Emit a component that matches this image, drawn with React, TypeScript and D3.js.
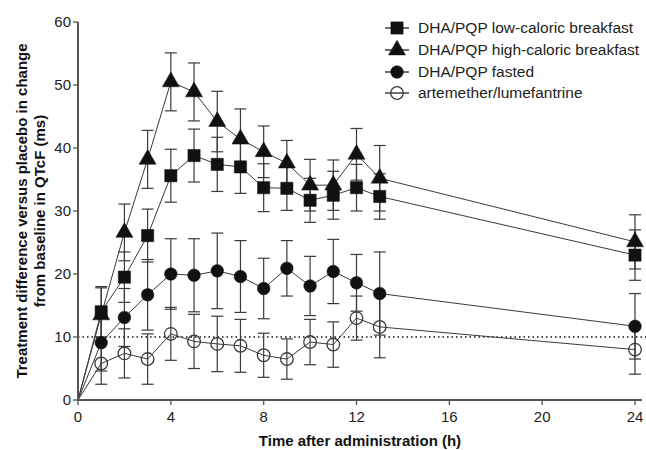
import React from "react";
import * as d3 from "d3";

const WIDTH = 646;
const HEIGHT = 450;
const MARGIN = { top: 22, right: 11, bottom: 50, left: 78 };

const times = [1, 2, 3, 4, 5, 6, 7, 8, 9, 10, 11, 12, 13, 24];

const lowValues = [14.0, 19.5, 26.1, 35.6, 38.8, 37.4, 37.0, 33.7, 33.6, 31.7, 32.5, 33.7, 32.3, 23.0];
const lowErrors = [4.0, 4.0, 4.2, 4.2, 4.2, 4.3, 4.2, 3.8, 3.5, 3.5, 3.8, 3.7, 3.6, 4.0];

const highValues = [13.5, 26.6, 38.2, 50.5, 48.9, 44.2, 41.4, 39.4, 37.6, 34.1, 34.1, 39.0, 35.2, 25.1];
const highErrors = [4.3, 4.5, 4.6, 4.6, 4.6, 4.8, 4.8, 4.1, 3.6, 4.1, 4.0, 4.1, 5.2, 4.3];

const fastedValues = [9.1, 13.1, 16.7, 20.0, 19.8, 20.5, 19.6, 17.7, 20.9, 18.1, 20.4, 18.6, 16.9, 11.7];
const fastedErrors = [4.5, 4.6, 5.6, 5.6, 5.8, 6.0, 5.7, 4.8, 4.4, 4.7, 5.1, 4.5, 6.6, 5.2];

const artValues = [5.8, 7.4, 6.5, 10.5, 9.3, 8.9, 8.6, 7.1, 6.5, 9.2, 8.8, 13.0, 11.6, 8.0];
const artErrors = [3.3, 3.9, 4.0, 4.2, 4.3, 4.4, 4.2, 3.5, 3.2, 3.6, 3.6, 3.5, 4.9, 3.9];

const xTicks = [0, 4, 8, 12, 16, 20, 24];
const yTicks = [0, 10, 20, 30, 40, 50, 60];
const referenceLevel = 10;

type Shape = "square" | "triangle" | "circle" | "open";

const series: { name: string; values: number[]; errors: number[]; shape: Shape }[] = [
  { name: "DHA/PQP low-caloric breakfast", values: lowValues, errors: lowErrors, shape: "square" },
  { name: "DHA/PQP high-caloric breakfast", values: highValues, errors: highErrors, shape: "triangle" },
  { name: "DHA/PQP fasted", values: fastedValues, errors: fastedErrors, shape: "circle" },
  { name: "artemether/lumefantrine", values: artValues, errors: artErrors, shape: "open" },
];

// draw order: back to front
const drawOrder = [3, 2, 1, 0];

const FONT = "Arial, 'Liberation Sans', sans-serif";
const INK = "#111";
const LINE = "#3a3a3a";
const AXIS = "#555";
const CAP = 6;

const symbolPath = (shape: Shape) => {
  if (shape === "square") return d3.symbol(d3.symbolSquare, 150)()!;
  if (shape === "triangle") return d3.symbol(d3.symbolTriangle, 125)()!;
  return d3.symbol(d3.symbolCircle, 125)()!;
};

const Marker = ({ shape, x, y }: { shape: Shape; x: number; y: number }) => (
  <path
    d={symbolPath(shape)}
    transform={`translate(${x},${y})`}
    fill={shape === "open" ? "none" : INK}
    stroke={shape === "open" ? LINE : INK}
    strokeWidth={shape === "open" ? 1.3 : 0.5}
  />
);

export default function App() {
  const boundsHeight = HEIGHT - MARGIN.top - MARGIN.bottom;

  const xScale = d3.scaleLinear().domain([0, 24]).range([MARGIN.left, MARGIN.left + 557]);
  const yScale = d3.scaleLinear().domain([0, 60]).range([MARGIN.top + boundsHeight, MARGIN.top]);

  const line = d3
    .line<[number, number]>()
    .x((d) => xScale(d[0]))
    .y((d) => yScale(d[1]));

  const y0 = yScale(0);
  const legendX = 397;
  const legendY = [28, 50, 72, 93];

  return (
    <svg
      width={WIDTH}
      height={HEIGHT}
      style={{ position: "absolute", left: 0, top: 0, background: "#fff" }}
      fontFamily={FONT}
    >
      <rect width={WIDTH} height={HEIGHT} fill="#fff" />

      {/* reference line */}
      <line
        x1={xScale(0)}
        x2={WIDTH}
        y1={yScale(referenceLevel)}
        y2={yScale(referenceLevel)}
        stroke={INK}
        strokeWidth={1.3}
        strokeDasharray="1.5,3"
      />

      {/* lines */}
      {drawOrder.map((si) => {
        const s = series[si];
        const pts: [number, number][] = [[0, 0], ...times.map((t, i) => [t, s.values[i]] as [number, number])];
        return <path key={`l${si}`} d={line(pts)!} fill="none" stroke={LINE} strokeWidth={1} />;
      })}

      {/* error bars */}
      {drawOrder.map((si) => {
        const s = series[si];
        return (
          <g key={`e${si}`} stroke={LINE} strokeWidth={1.2}>
            {times.map((t, i) => {
              const x = xScale(t);
              const top = yScale(s.values[i] + s.errors[i]);
              const bot = yScale(s.values[i] - s.errors[i]);
              return (
                <g key={i}>
                  <line x1={x} x2={x} y1={top} y2={bot} />
                  <line x1={x - CAP} x2={x + CAP} y1={top} y2={top} />
                  <line x1={x - CAP} x2={x + CAP} y1={bot} y2={bot} />
                </g>
              );
            })}
          </g>
        );
      })}

      {/* markers */}
      {drawOrder.map((si) => {
        const s = series[si];
        return (
          <g key={`m${si}`}>
            {times.map((t, i) => (
              <Marker key={i} shape={s.shape} x={xScale(t)} y={yScale(s.values[i])} />
            ))}
          </g>
        );
      })}

      {/* axes */}
      <g stroke={AXIS} strokeWidth={2}>
        <line x1={xScale(0)} x2={xScale(0)} y1={yScale(60)} y2={y0 + 1} />
        <line x1={xScale(0) - 1} x2={WIDTH - 4} y1={y0} y2={y0} />
        {yTicks.map((v) => (
          <line key={`yt${v}`} x1={xScale(0) - 5} x2={xScale(0)} y1={yScale(v)} y2={yScale(v)} strokeWidth={1.3} />
        ))}
        {xTicks.map((v) => (
          <line key={`xt${v}`} x1={xScale(v)} x2={xScale(v)} y1={y0} y2={y0 + 5} strokeWidth={1.3} />
        ))}
      </g>
      <g fontSize={15} fill="#222">
        {yTicks.map((v) => (
          <text key={`yl${v}`} x={xScale(0) - 7} y={yScale(v)} dy="0.35em" textAnchor="end">
            {v}
          </text>
        ))}
        {xTicks.map((v) => (
          <text key={`xl${v}`} x={xScale(v)} y={y0 + 22} textAnchor="middle">
            {v}
          </text>
        ))}
      </g>

      {/* axis titles */}
      <text x={360} y={446} textAnchor="middle" fontSize={15} fontWeight="bold" fill={INK}>
        Time after administration (h)
      </text>
      <text
        transform={`translate(27,${MARGIN.top + boundsHeight / 2}) rotate(-90)`}
        textAnchor="middle"
        fontSize={15}
        fontWeight="bold"
        fill={INK}
      >
        <tspan x={0} y={0}>Treatment difference versus placebo in change</tspan>
        <tspan x={0} y={18}>from baseline in QTcF (ms)</tspan>
      </text>

      {/* legend */}
      {series.map((s, i) => (
        <g key={`lg${i}`}>
          <line x1={legendX - 12} x2={legendX + 12} y1={legendY[i]} y2={legendY[i]} stroke={INK} strokeWidth={1.2} />
          <Marker shape={s.shape} x={legendX} y={legendY[i]} />
          <text x={legendX + 21} y={legendY[i]} dy="0.35em" fontSize={15.5} fill="#222">
            {s.name}
          </text>
        </g>
      ))}
    </svg>
  );
}
